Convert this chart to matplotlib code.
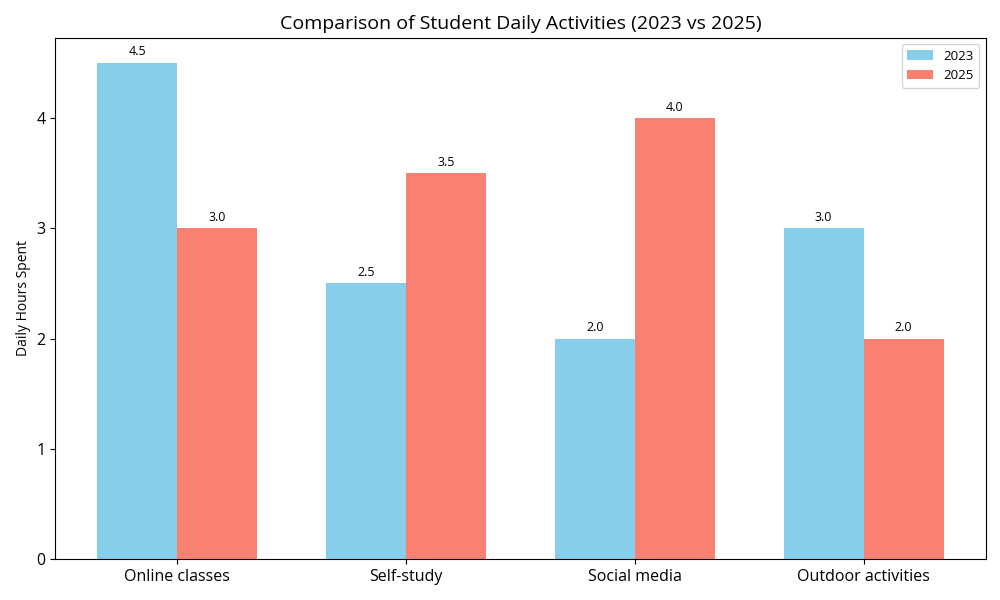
import numpy as np
import matplotlib
matplotlib.use("Agg")
import matplotlib.pyplot as plt

plt.rcParams['font.family'] = ['Open Sans', 'DejaVu Sans']

activities = ["Online classes", "Self-study", "Social media", "Outdoor activities"]
hours_2023 = [4.5, 2.5, 2.0, 3.0]
hours_2025 = [3.0, 3.5, 4.0, 2.0]

x = np.arange(len(activities))
width = 0.35

fig, ax = plt.subplots(figsize=(10, 6), dpi=100)
b1 = ax.bar(x - width/2, hours_2023, width, label="2023", color="skyblue")
b2 = ax.bar(x + width/2, hours_2025, width, label="2025", color="salmon")

for bars in (b1, b2):
    for rect in bars:
        h = rect.get_height()
        ax.annotate(f"{h:.1f}", xy=(rect.get_x() + rect.get_width()/2, h),
                    xytext=(0, 3), textcoords="offset points",
                    ha="center", va="bottom", fontsize=9)

ax.set_title("Comparison of Student Daily Activities (2023 vs 2025)", fontsize=14)
ax.set_ylabel("Daily Hours Spent", fontsize=10)
ax.set_xticks(x)
ax.set_xticklabels(activities, fontsize=11.5)
ax.tick_params(axis="y", labelsize=11.5)
ax.legend(fontsize=9.5)

fig.subplots_adjust(left=0.055, right=0.986, top=0.937, bottom=0.068)
fig.savefig("out.png")
